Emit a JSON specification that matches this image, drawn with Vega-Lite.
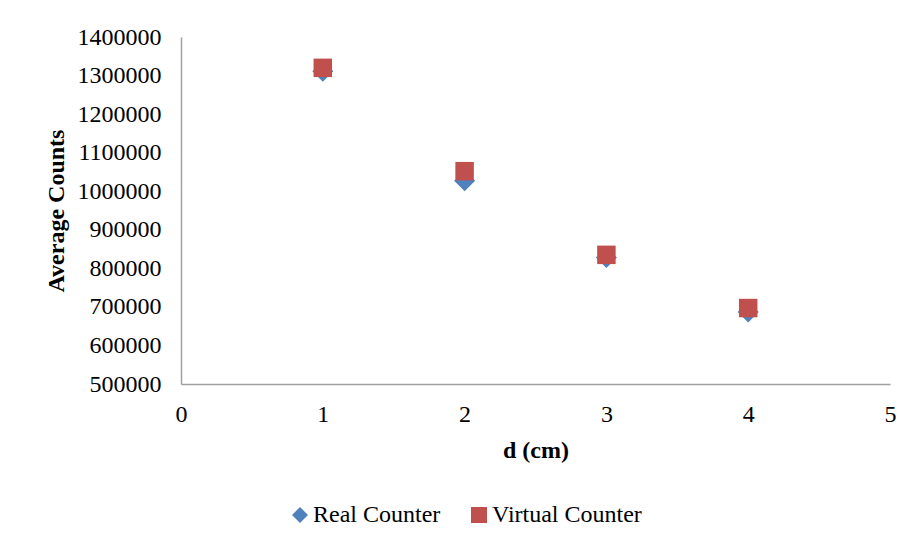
{
  "$schema": "https://vega.github.io/schema/vega-lite/v6.json",
  "autosize": "none",
  "width": 709,
  "height": 347,
  "padding": {"left": 181, "top": 37, "right": 20, "bottom": 163},
  "background": "white",
  "config": {
    "view": {"stroke": null},
    "font": "Liberation Serif",
    "axis": {
      "grid": false,
      "ticks": false,
      "tickSize": 0,
      "domainColor": "#A0A0A0",
      "domainWidth": 1.5,
      "labelFont": "Liberation Serif",
      "labelFontSize": 24,
      "labelColor": "black",
      "titleFont": "Liberation Serif",
      "titleFontSize": 24,
      "titleFontWeight": "bold",
      "titleColor": "black"
    },
    "legend": {
      "labelFont": "Liberation Serif",
      "labelFontSize": 24,
      "labelColor": "black",
      "symbolSize": 256,
      "symbolStrokeWidth": 0,
      "symbolOpacity": 1
    }
  },
  "data": {
    "values": [
      {"d": 1, "counts": 1311000, "series": "Real Counter"},
      {"d": 2, "counts": 1027000, "series": "Real Counter"},
      {"d": 3, "counts": 828000, "series": "Real Counter"},
      {"d": 4, "counts": 687000, "series": "Real Counter"},
      {"d": 1, "counts": 1320000, "series": "Virtual Counter"},
      {"d": 2, "counts": 1052000, "series": "Virtual Counter"},
      {"d": 3, "counts": 835000, "series": "Virtual Counter"},
      {"d": 4, "counts": 697000, "series": "Virtual Counter"}
    ]
  },
  "encoding": {
    "x": {
      "field": "d",
      "type": "quantitative",
      "title": "d (cm)",
      "scale": {"domain": [0, 5], "nice": false, "zero": false},
      "axis": {"values": [0, 1, 2, 3, 4, 5], "labelPadding": 18, "titlePadding": 12, "labelFlush": false}
    },
    "y": {
      "field": "counts",
      "type": "quantitative",
      "title": "Average Counts",
      "scale": {"domain": [500000, 1400000], "nice": false, "zero": false},
      "axis": {
        "values": [500000, 600000, 700000, 800000, 900000, 1000000, 1100000, 1200000, 1300000, 1400000],
        "format": "d",
        "labelPadding": 20,
        "titlePadding": 9,
        "labelFlush": false
      }
    },
    "color": {
      "field": "series",
      "type": "nominal",
      "title": null,
      "scale": {"domain": ["Real Counter", "Virtual Counter"], "range": ["#4F81BD", "#C0504D"]},
      "legend": {
        "orient": "none",
        "direction": "horizontal",
        "legendX": 107,
        "legendY": 466,
        "padding": 0,
        "labelOffset": 1,
        "columnPadding": 26,
        "symbolSize": 256
      }
    },
    "shape": {
      "field": "series",
      "type": "nominal",
      "title": null,
      "scale": {"domain": ["Real Counter", "Virtual Counter"], "range": ["diamond", "square"]}
    }
  },
  "layer": [
    {
      "transform": [{"filter": "datum.series === 'Real Counter'"}],
      "mark": {"type": "point", "filled": true, "opacity": 1, "size": 441, "strokeWidth": 0}
    },
    {
      "transform": [{"filter": "datum.series === 'Virtual Counter'"}],
      "mark": {"type": "point", "filled": true, "opacity": 1, "size": 342, "strokeWidth": 0}
    }
  ]
}
